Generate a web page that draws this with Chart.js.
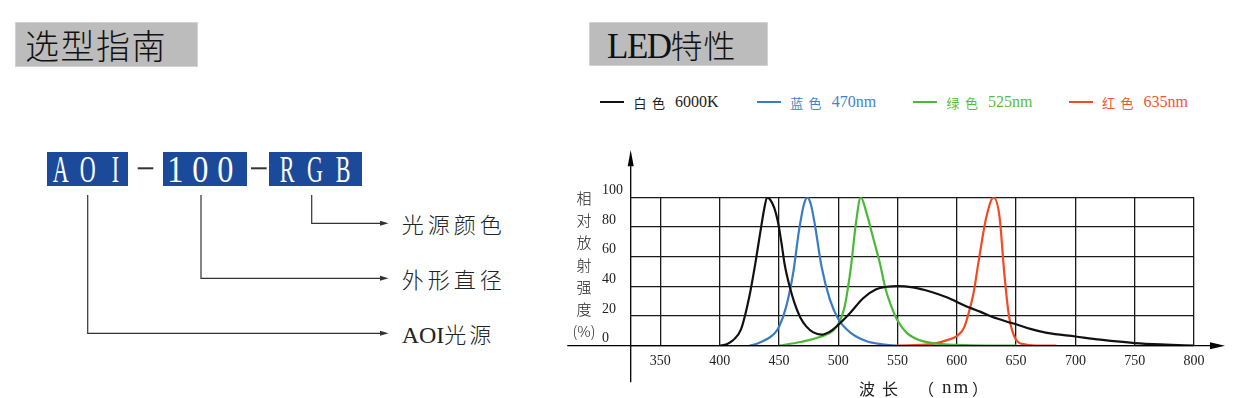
<!DOCTYPE html>
<html><head><meta charset="utf-8">
<script src="https://cdn.jsdelivr.net/npm/chart.js@4"></script>
<style>
html,body{margin:0;padding:0;background:#fff;width:1237px;height:398px;overflow:hidden;}
body{position:relative;font-family:"Noto Sans CJK SC",sans-serif;color:#111;}
.abs{position:absolute;white-space:nowrap;}
.tbox{position:absolute;background:#bcbcbc;border:1px solid #d2d2d2;box-sizing:border-box;}
.bb{position:absolute;background:#1c4a9b;height:34px;display:flex;justify-content:center;color:#fff;font-family:"Liberation Serif",serif;font-size:38px;line-height:34px;}
.bb span{display:inline-block;width:29px;text-align:center;}
.lbl{font-size:22px;line-height:22px;letter-spacing:4px;font-weight:300;color:#222;}
.leg{position:absolute;top:92px;height:20px;width:120px;white-space:nowrap;}
.leg i{position:absolute;left:0;top:9.3px;width:24px;height:2px;}
.leg b{position:absolute;left:33.5px;top:2.5px;font-weight:400;font-size:13px;line-height:15px;letter-spacing:5.4px;white-space:nowrap;}
.leg em{position:absolute;left:75px;top:1px;font-style:normal;font-family:"Liberation Serif",serif;font-size:16px;line-height:18px;white-space:nowrap;}
#c{position:absolute;left:560px;top:0;}
</style></head><body>

<!-- left: selection guide -->
<div class="tbox" style="left:15px;top:21.7px;width:183px;height:45px;"></div>
<div class="abs" style="left:25px;top:28px;font-size:34px;line-height:34px;letter-spacing:1.5px;font-weight:300;">选型指南</div>

<div class="bb" style="left:46.7px;top:151.7px;width:81.6px;"><span style="transform:scaleX(0.58)">A</span><span style="transform:scaleX(0.58)">O</span><span style="transform:scaleX(0.58)">I</span></div>
<div class="bb" style="left:163.3px;top:151.7px;width:84px;padding-right:10px;box-sizing:border-box;"><span style="width:27.5px;transform:scaleX(0.85)">1</span><span style="width:27.5px;transform:scaleX(0.85)">0</span><span style="width:27.5px;transform:scaleX(0.85)">0</span></div>
<div class="bb" style="left:269px;top:151.7px;width:92.7px;"><span style="width:28px;transform:scaleX(0.58)">R</span><span style="width:28px;transform:scaleX(0.58)">G</span><span style="width:28px;transform:scaleX(0.58)">B</span></div>

<svg class="abs" style="left:0;top:0" width="560" height="398">
  <g fill="#333">
    <rect x="137.7" y="167.3" width="15.6" height="2"/>
    <rect x="251" y="167.3" width="15.7" height="2"/>
  </g>
  <g stroke="#333" stroke-width="1.2" fill="none">
    <path d="M311.7 195 V223.3 H381"/>
    <path d="M201 195 V278.3 H381"/>
    <path d="M87.7 195 V333.3 H381"/>
  </g>
  <g fill="#333">
    <polygon points="380,220.8 388.5,223.3 380,225.8"/>
    <polygon points="380,275.8 388.5,278.3 380,280.8"/>
    <polygon points="380,330.8 388.5,333.3 380,335.8"/>
  </g>
</svg>
<div class="abs lbl" style="left:401.7px;top:212.3px;">光源颜色</div>
<div class="abs lbl" style="left:401.7px;top:267.3px;">外形直径</div>
<div class="abs lbl" style="left:401.7px;top:322.3px;letter-spacing:3px;"><span style="font-family:'Liberation Serif',serif;font-size:24px;letter-spacing:0">AOI</span>光源</div>

<!-- right: LED characteristics -->
<div class="tbox" style="left:589px;top:21.7px;width:179px;height:44px;"></div>
<div class="abs" style="left:607px;top:26px;line-height:36px;">
  <span style="font-family:'Liberation Serif',serif;font-size:35px;letter-spacing:-1.5px;">LED</span><span style="font-size:32px;font-weight:300;letter-spacing:1px;">特性</span>
</div>

<div id="legend"></div>

<canvas id="c" width="677" height="398"></canvas>

<div class="abs" style="left:569px;top:187.3px;width:30px;text-align:center;font-size:15px;line-height:22.1px;white-space:normal;font-weight:300;color:#222;">相<br>对<br>放<br>射<br>强<br>度<br>(%)</div>

<div class="abs" style="left:859px;top:379px;font-size:16px;line-height:18px;letter-spacing:7px;color:#222;">波长</div>
<div class="abs" style="left:918px;top:379px;font-size:16px;line-height:18px;color:#222;">（</div>
<div class="abs" style="left:942px;top:376px;font-family:'Liberation Serif',serif;font-size:19px;line-height:22px;letter-spacing:2px;color:#222;">nm</div>
<div class="abs" style="left:972px;top:379px;font-size:16px;line-height:18px;color:#222;">）</div>

<script>
// ---- data ----
const seriesNames  = ['白色', '蓝色', '绿色', '红色'];
const seriesTags   = ['6000K', '470nm', '525nm', '635nm'];
const seriesColors = ['#111111', '#3a7cc4', '#4cb83a', '#f24a22'];
const legendColors = ['#222222', '#3f82cc', '#58bb3e', '#f0552d'];

const wavelengthTicks = [350, 400, 450, 500, 550, 600, 650, 700, 750, 800];
const intensityTicks  = [0, 20, 40, 60, 80, 100];
const wavelengthMin = 325;
const wavelengthMax = 800;

const whiteNm  = [400, 406, 411, 418, 425, 430, 434, 438, 440, 443, 446, 449, 452, 455, 459, 463, 468, 473, 479, 486, 493, 500, 510, 521, 532, 541, 550, 563, 578, 592, 606, 620, 634, 643, 650, 662, 676, 700, 721, 750, 776, 800];
const whiteVal = [0,   1,   3.5, 11,  33,  55,  75,  94,  100, 98,  93,  84,  70,  54,  40,  29,  19,  13,  9,   7.5, 9.5, 14,  22,  32,  38,  39.7, 40.2, 39.3, 36.4, 32.5, 27.3, 22.8, 18.3, 16, 14.5, 11.3, 8.6, 6.2, 4.1, 1.8, 0.7, 0];

const blueNm  = [425, 432, 440, 446, 450, 456, 462, 467, 471, 474, 477, 480, 486, 493, 500, 510, 524, 537, 550];
const blueVal = [0,   1.5, 4.5, 8,   12.6, 26, 49,  78,  95,  100, 95,  83,  53,  31,  18,  9,   3,   1,   0];

const greenNm  = [450, 468, 485, 496, 501, 505, 508, 511, 515, 519, 524, 530, 535, 540, 545, 550, 558, 569, 583, 600, 625, 650];
const greenVal = [0,   2.5, 6,   10.4, 16, 25,  38,  55,  83,  100, 89,  71,  56,  38,  26,  17,  8.5, 3.6, 1.4, 0.5, 0,   0];

const redNm  = [550, 578, 591, 600, 606, 610, 614, 619, 625, 631, 636, 640, 644, 650, 658, 670, 684];
const redVal = [0,   1,   3.6, 6.5, 12,  22,  35,  60,  87,  100, 87,  49,  20,  4,   0.8, 0,   0];

const seriesNm  = [whiteNm, blueNm, greenNm, redNm];
const seriesVal = [whiteVal, blueVal, greenVal, redVal];

// ---- legend (HTML) ----
const legendX = [600, 756.7, 913, 1068.5];
const legendEl = document.getElementById('legend');
seriesNames.forEach((n, i) => {
  const d = document.createElement('div');
  d.className = 'leg';
  d.style.left = legendX[i] + 'px';
  d.innerHTML = '<i style="background:' + seriesColors[i] + '"></i><b style="color:' + legendColors[i] + '">' + n + '</b><em style="color:' + legendColors[i] + '">' + seriesTags[i] + '</em>';
  legendEl.appendChild(d);
});

// ---- axes with arrows ----
const axisArrows = {
  id: 'axisArrows',
  afterDraw(chart) {
    const {ctx, scales: {x, y}} = chart;
    const x0 = x.getPixelForValue(wavelengthMin);
    const y0 = y.getPixelForValue(0);
    ctx.save();
    ctx.strokeStyle = '#000';
    ctx.fillStyle = '#000';
    ctx.lineWidth = 1.3;
    // horizontal axis
    ctx.beginPath();
    ctx.moveTo(x0 - 63.4, y0);
    ctx.lineTo(x.right + 20, y0);
    ctx.stroke();
    ctx.beginPath();
    ctx.moveTo(x.right + 31, y0);
    ctx.lineTo(x.right + 16, y0 - 3.5);
    ctx.lineTo(x.right + 16, y0 + 3.5);
    ctx.closePath();
    ctx.fill();
    // vertical axis
    ctx.beginPath();
    ctx.moveTo(x0, y0 + 36.6);
    ctx.lineTo(x0, y.top - 35);
    ctx.stroke();
    ctx.beginPath();
    ctx.moveTo(x0, y.top - 47.3);
    ctx.lineTo(x0 - 3, y.top - 31);
    ctx.lineTo(x0 + 3, y.top - 31);
    ctx.closePath();
    ctx.fill();
    ctx.restore();
  }
};

const datasets = seriesNames.map((n, i) => ({
  label: n + ' ' + seriesTags[i],
  data: seriesNm[i].map((nm, k) => ({x: nm, y: seriesVal[i][k]})),
  borderColor: seriesColors[i],
  backgroundColor: seriesColors[i],
  borderWidth: 2.2,
  pointRadius: 0,
  fill: false,
  cubicInterpolationMode: 'monotone'
}));

new Chart(document.getElementById('c'), {
  type: 'line',
  data: {datasets},
  options: {
    responsive: false,
    animation: false,
    devicePixelRatio: 1,
    layout: {padding: {left: 42, right: 43, top: 197.3, bottom: 22.3}},
    plugins: {legend: {display: false}, tooltip: {enabled: false}},
    scales: {
      x: {
        type: 'linear',
        min: wavelengthMin,
        max: wavelengthMax,
        afterBuildTicks: s => { s.ticks = wavelengthTicks.map(v => ({value: v})); },
        afterFit: s => { s.height = 30; },
        border: {display: false},
        grid: {color: '#1a1a1a', lineWidth: 1.3, drawTicks: false},
        ticks: {color: '#222', padding: 7, maxRotation: 0, autoSkip: false,
                font: {family: 'Liberation Serif', size: 14}}
      },
      y: {
        min: 0,
        max: 100,
        afterBuildTicks: s => { s.ticks = intensityTicks.map(v => ({value: v})); },
        afterFit: s => { s.width = 28.7; },
        border: {display: false},
        grid: {color: '#1a1a1a', lineWidth: 1.3, drawTicks: false},
        ticks: {color: '#222', crossAlign: 'far', labelOffset: -7, padding: 0,
                font: {family: 'Liberation Serif', size: 14}}
      }
    }
  },
  plugins: [axisArrows]
});
</script>
</body></html>
